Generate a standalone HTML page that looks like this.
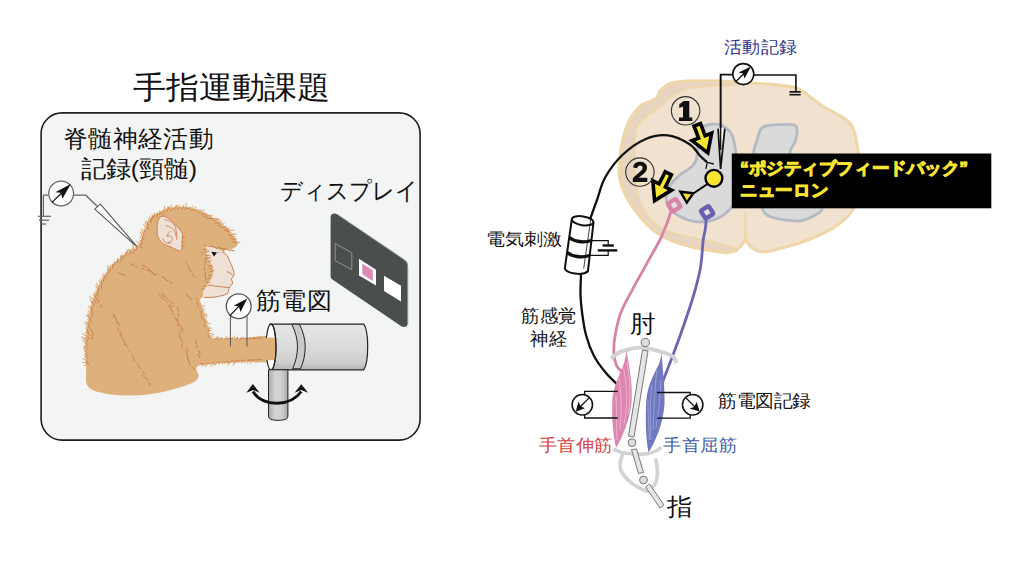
<!DOCTYPE html>
<html lang="ja"><head><meta charset="utf-8"><title>手指運動課題</title>
<style>
html,body{margin:0;padding:0;background:#fff;}
body{width:1024px;height:572px;position:relative;overflow:hidden;font-family:"Liberation Sans",sans-serif;}
svg{position:absolute;left:0;top:0;}
.t{position:absolute;line-height:1;white-space:nowrap;transform-origin:0 0;}
</style></head><body>
<svg width="1024" height="572" viewBox="0 0 1024 572">
<defs>
<linearGradient id="cyl" x1="0" y1="0" x2="0" y2="1">
<stop offset="0" stop-color="#e4e5e7"/><stop offset="0.55" stop-color="#dadada"/><stop offset="0.85" stop-color="#cdcdcd"/><stop offset="1" stop-color="#b5b5b5"/>
</linearGradient>
<linearGradient id="post" x1="0" y1="0" x2="1" y2="0">
<stop offset="0" stop-color="#a9a9a9"/><stop offset="0.35" stop-color="#d4d4d4"/><stop offset="0.7" stop-color="#cdcdcd"/><stop offset="1" stop-color="#a5a5a5"/>
</linearGradient>
</defs>
<rect x="41.1" y="112.9" width="379" height="327.2" rx="21" fill="#f3f4f4" stroke="#1e1e1e" stroke-width="1.6"/>
<polyline points="48.2,195.2 43.4,195.2 43.4,216.3" fill="none" stroke="#6b6360" stroke-width="1.2"/>
<g stroke="#6b6360" stroke-width="1.2"><line x1="38" y1="216.3" x2="51" y2="216.3"/><line x1="39" y1="220.2" x2="49.1" y2="220.2"/><line x1="41.5" y1="224" x2="46.3" y2="224"/></g>
<polyline points="74.1,195.2 85.7,195.2 97.5,206.5" fill="none" stroke="#6b6360" stroke-width="1.2"/>
<polygon points="94.8,209.1 100.4,204.2 138,247.8" fill="#fff" stroke="#555" stroke-width="1.1" stroke-linejoin="round"/>
<circle cx="61.15" cy="193.5" r="12.4" fill="#fff" stroke="#6b6360" stroke-width="1.25"/>
<line x1="52" y1="202.4" x2="62" y2="192.5" stroke="#111" stroke-width="1.2"/>
<polygon points="70.8,184.1 55.4,192.3 60.7,192.8 62.6,198.6" fill="#111"/>
<path d="M87.9,386.3 C84.6,381.7 86.6,373.4 86.2,366.0 C85.8,358.6 84.9,350.1 85.4,341.7 C85.9,333.3 87.5,323.8 89.2,315.5 C90.9,307.2 92.4,299.6 95.7,292.0 C99.0,284.4 104.4,275.6 108.8,269.7 C113.2,263.8 117.1,260.4 122.0,256.5 C126.9,252.6 134.3,250.5 138.0,246.3 C141.7,242.2 142.0,236.2 144.0,231.6 C146.0,226.9 146.9,221.8 149.8,218.4 C152.7,215.0 158.1,212.9 161.5,211.1 C164.9,209.3 165.9,208.1 170.3,207.5 C174.7,206.9 182.5,206.5 187.9,207.3 C193.3,208.1 197.6,210.1 202.5,212.4 C207.4,214.7 212.8,218.1 217.2,221.0 C221.6,223.9 225.5,226.3 228.9,230.0 C232.3,233.7 237.2,240.1 237.7,243.3 C238.2,246.5 234.0,247.9 231.8,249.2 C229.6,250.5 226.1,247.5 224.5,251.0 C222.9,254.5 223.6,263.5 222.0,270.0 C220.4,276.5 218.5,285.3 215.0,290.0 C211.5,294.7 203.2,295.5 201.0,298.0 C198.8,300.5 200.9,302.2 201.5,305.0 C202.1,307.8 203.3,311.2 204.5,315.0 C205.7,318.8 207.1,324.1 208.5,328.0 C209.9,331.9 207.9,336.6 213.2,338.3 C218.4,340.0 229.8,338.3 240.0,338.2 C250.2,338.1 268.7,334.0 274.4,337.6 C280.1,341.2 280.1,355.9 274.4,360.0 C268.7,364.1 252.5,361.1 240.0,362.0 C227.5,362.9 206.1,363.1 199.2,365.5 C192.3,367.9 199.9,373.5 198.5,376.5 C197.1,379.5 197.4,380.8 191.0,383.5 C184.6,386.2 169.8,390.5 160.0,392.5 C150.2,394.5 141.4,395.3 132.4,395.5 C123.4,395.7 113.6,395.3 106.2,393.8 C98.8,392.3 91.2,390.9 87.9,386.3 Z" fill="#deb07b"/>
<path d="M87.7,366.0 q-2.5,-0.5 -3.7,-1.0 M87.6,363.3 q-3.1,-0.5 -4.9,-1.1 M87.5,360.6 q-2.7,-0.9 -4.3,-1.8 M87.4,357.9 q-1.9,-0.7 -2.6,-1.3 M87.3,355.2 q-1.9,-0.6 -2.6,-1.2 M87.3,352.5 q-2.0,-0.3 -2.9,-0.7 M87.2,349.8 q-2.3,-1.3 -3.3,-2.6 M87.1,347.1 q-2.1,-0.5 -3.0,-1.0 M87.0,344.4 q-2.4,-1.7 -3.7,-3.4 M86.9,341.9 q-2.6,-1.4 -4.0,-2.7 M87.3,339.3 q-3.5,-1.2 -5.8,-2.3 M87.6,336.7 q-3.1,-1.5 -5.0,-2.9 M88.0,334.1 q-2.1,-0.7 -2.9,-1.3 M88.4,331.4 q-1.9,-1.5 -2.5,-2.8 M88.8,328.8 q-1.9,-1.2 -2.6,-2.2 M89.2,326.2 q-2.7,-1.4 -4.2,-2.7 M89.5,323.6 q-2.8,-1.0 -4.3,-1.8 M89.9,321.0 q-1.9,-0.8 -2.6,-1.3 M90.3,318.3 q-2.7,-1.6 -4.2,-2.9 M90.6,315.9 q-1.9,-1.6 -2.6,-2.8 M91.4,313.3 q-2.3,-1.5 -3.4,-2.6 M92.1,310.7 q-2.3,-2.3 -3.5,-4.3 M92.8,308.1 q-1.8,-1.5 -2.4,-2.6 M93.5,305.5 q-1.8,-2.1 -2.5,-3.9 M94.3,302.8 q-2.7,-1.8 -4.2,-3.2 M95.0,300.2 q-3.2,-1.8 -5.3,-3.2 M95.7,297.6 q-1.8,-1.8 -2.5,-3.4 M96.4,295.0 q-1.7,-1.3 -2.3,-2.3 M97.0,292.8 q-1.1,-1.6 -1.2,-2.6 M98.4,290.3 q-1.8,-2.7 -2.6,-4.8 M99.9,287.8 q-2.3,-2.6 -3.5,-4.7 M101.4,285.3 q-1.7,-2.6 -2.4,-4.6 M102.8,282.8 q-1.8,-2.3 -2.5,-4.1 M104.3,280.4 q-1.3,-3.1 -1.5,-5.5 M105.7,277.9 q-1.4,-2.3 -1.9,-4.0 M107.2,275.4 q-1.1,-1.6 -1.2,-2.7 M108.6,272.9 q-1.1,-2.7 -1.2,-4.9 M109.9,270.8 q-1.5,-3.0 -2.2,-5.2 M111.7,268.9 q-0.8,-2.4 -0.7,-4.0 M113.6,267.0 q-0.8,-1.8 -0.8,-2.7 M115.5,265.1 q-1.2,-1.9 -1.6,-2.9 M117.4,263.2 q-0.6,-1.9 -0.3,-2.9 M119.3,261.3 q-1.1,-1.9 -1.3,-2.9 M121.2,259.4 q-0.5,-2.5 -0.2,-4.1 M122.8,257.8 q-0.5,-2.0 -0.3,-3.0 M125.1,256.3 q0.1,-2.8 0.8,-4.6 M127.4,254.9 q0.1,-3.3 0.9,-5.6 M129.7,253.4 q-0.5,-2.3 -0.4,-3.7 M131.9,251.9 q0.0,-2.5 0.7,-3.9 M134.2,250.5 q-1.1,-3.5 -1.6,-5.9 M136.5,249.0 q-0.7,-2.1 -0.7,-3.3 M139.4,246.9 q-1.7,-1.6 -2.2,-2.7 M140.4,244.4 q-2.3,-1.9 -3.5,-3.3 M141.4,242.0 q-1.5,-1.2 -1.8,-2.0 M142.4,239.5 q-1.8,-1.8 -2.4,-3.2 M143.4,237.1 q-2.2,-2.8 -3.3,-5.2 M144.4,234.6 q-1.9,-2.1 -2.6,-3.7 M145.4,232.2 q-2.6,-1.8 -4.1,-3.1 M146.5,229.6 q-1.9,-2.9 -2.8,-5.3 M147.7,226.9 q-1.9,-2.8 -2.7,-5.2 M148.9,224.3 q-1.9,-1.8 -2.7,-3.1 M150.0,221.6 q-1.4,-1.5 -1.7,-2.6 M150.6,219.7 q-0.8,-1.9 -0.9,-2.8 M152.9,218.2 q-0.8,-2.2 -0.9,-3.3 M155.3,216.8 q-0.9,-2.4 -1.2,-3.7 M157.6,215.3 q-0.7,-1.8 -0.7,-2.6 M160.0,213.8 q-0.5,-2.0 -0.4,-3.0 M162.1,212.5 q0.2,-1.9 0.9,-2.6 M165.0,211.3 q-0.5,-3.0 -0.5,-4.9 M167.9,210.1 q-0.2,-2.4 0.1,-3.6 M170.3,209.0 q0.5,-2.5 1.1,-3.9 M173.3,209.0 q2.0,-2.6 4.1,-4.0 M176.2,208.9 q1.0,-2.5 2.0,-3.9 M179.1,208.9 q0.4,-2.1 0.8,-2.9 M182.1,208.9 q0.7,-2.4 1.4,-3.7 M185.0,208.8 q0.8,-3.3 1.6,-5.4 M187.4,208.7 q1.4,-1.2 2.5,-1.2 M190.3,209.7 q1.6,-2.4 2.7,-3.7 M193.2,210.8 q1.4,-2.5 2.5,-3.9 M196.2,211.8 q2.3,-1.5 4.2,-2.0 M199.1,212.8 q2.6,-2.2 4.8,-3.3 M201.7,213.7 q1.8,-1.6 3.0,-2.1 M204.2,215.1 q1.8,-1.1 3.1,-1.2 M206.6,216.6 q2.5,-1.3 4.3,-1.7 M209.1,218.0 q1.8,-1.8 3.0,-2.5 M211.5,219.4 q3.0,-1.2 5.5,-1.4 M214.0,220.9 q3.0,-1.5 5.4,-2.0 M216.3,222.2 q3.1,-1.2 5.5,-1.5 M218.6,224.0 q2.0,-1.2 3.2,-1.4 M221.0,225.8 q1.9,-1.7 3.1,-2.5 M223.3,227.6 q1.6,-1.2 2.4,-1.4 M225.6,229.4 q2.1,-1.0 3.5,-1.0 M227.6,230.8 q3.6,-0.7 6.1,-0.7 M229.1,233.0 q3.5,0.3 5.9,1.3 M230.6,235.3 q3.5,-0.8 6.1,-1.0 M232.0,237.5 q2.2,-0.7 3.4,-0.8 M233.5,239.7 q2.1,-0.8 3.3,-0.9 M235.0,241.9 q2.9,0.1 4.9,0.8 M200.1,305.4 q2.8,0.3 4.4,0.9 M200.8,307.9 q2.4,0.6 3.6,1.5 M201.6,310.4 q1.7,0.2 2.2,0.7 M202.3,312.9 q2.7,0.7 4.3,1.7 M203.1,315.4 q2.6,0.2 4.1,0.8 M203.9,318.0 q1.8,0.3 2.4,1.0 M204.7,320.6 q2.0,0.4 2.8,1.1 M205.5,323.2 q3.0,0.2 4.8,0.7 M206.3,325.8 q2.0,0.6 2.9,1.5 M207.2,328.7 q2.6,-0.6 4.1,-0.6 M208.3,331.0 q1.7,-0.5 2.4,-0.4 M209.5,333.4 q2.8,0.3 4.5,1.1 M210.7,335.8 q1.8,0.0 2.4,0.6 M215.0,339.7 q1.3,-2.4 2.6,-3.6 M218.1,339.7 q0.7,-1.8 1.5,-2.4 M221.3,339.7 q0.1,-1.7 0.3,-2.2 M224.4,339.7 q1.3,-2.4 2.6,-3.6 M227.5,339.6 q1.2,-1.7 2.5,-2.2 M230.6,339.6 q1.1,-1.7 2.2,-2.1 M233.8,339.6 q0.5,-2.5 1.1,-3.9 M236.9,339.6 q0.4,-1.8 0.8,-2.4 M240.0,339.6 q0.7,-1.7 1.3,-2.1 M242.9,339.6 q0.5,-1.8 1.1,-2.4 M245.8,339.5 q0.8,-1.4 1.6,-1.5 M248.8,339.5 q0.6,-1.9 1.2,-2.5 M251.7,339.4 q1.2,-1.8 2.5,-2.3 M254.6,339.4 q1.1,-1.6 2.2,-2.0 M257.5,339.3 q0.8,-2.0 1.6,-2.8 M260.4,339.3 q0.2,-2.2 0.3,-3.2 M263.3,339.2 q0.3,-2.1 0.7,-3.0 M266.2,339.2 q0.6,-1.3 1.3,-1.4 M269.1,339.1 q0.5,-1.7 1.1,-2.1 M271.9,358.5 q-0.9,2.3 -1.8,3.3 M269.0,358.7 q-0.6,1.8 -1.2,2.5 M266.1,358.9 q-1.0,1.9 -2.1,2.6 M263.2,359.0 q-0.5,1.6 -1.0,1.9 M260.3,359.2 q-0.3,1.8 -0.7,2.5 M257.4,359.4 q-0.8,2.4 -1.7,3.5 M254.5,359.6 q-1.0,1.9 -2.0,2.7 M251.5,359.8 q-0.8,2.6 -1.7,3.9 M248.6,360.0 q-0.7,2.2 -1.5,3.1 M245.7,360.1 q-0.9,1.9 -1.8,2.7 M242.8,360.3 q-0.7,2.0 -1.4,2.7 M239.9,360.5 q-1.0,1.7 -2.2,2.3 M237.0,360.8 q-1.2,2.0 -2.4,2.8 M234.2,361.0 q-0.4,2.7 -1.0,4.2 M231.3,361.3 q-1.1,1.8 -2.3,2.4 M228.4,361.5 q-0.2,2.6 -0.5,4.0 M225.6,361.8 q-0.4,1.6 -0.8,2.1 M222.7,362.0 q-0.2,1.6 -0.4,2.1 M219.9,362.3 q-0.5,1.5 -1.1,1.8 M217.0,362.5 q-1.3,2.1 -2.6,2.9 M214.2,362.8 q-0.6,1.6 -1.3,1.9 M211.3,363.0 q-0.2,2.4 -0.5,3.6 M208.4,363.3 q-1.4,2.1 -3.0,2.9 M205.6,363.5 q-0.8,1.5 -1.7,1.8 M202.7,363.8 q-0.5,1.9 -1.2,2.7" fill="none" stroke="#deb07b" stroke-width="1.1" stroke-linecap="round"/>
<path d="M89.3,365.9 l-3.7,-4.0 M88.2,362.5 l-2.0,-2.2 M87.8,359.0 l-2.7,-2.9 M87.7,355.5 l-2.1,-2.2 M86.8,352.1 l-3.1,-3.4 M87.7,348.6 l-2.8,-3.0 M87.3,345.1 l-1.7,-1.9 M87.7,342.0 l-2.3,-3.7 M89.3,338.9 l-1.4,-2.2 M89.7,335.6 l-2.6,-4.1 M88.5,332.1 l-1.5,-2.4 M90.2,329.0 l-1.4,-2.2 M89.1,325.5 l-1.8,-2.8 M91.5,322.5 l-2.0,-3.1 M90.4,319.0 l-2.7,-4.1 M92.4,316.4 l-1.3,-2.6 M92.8,312.9 l-1.8,-3.8 M92.2,309.1 l-1.2,-2.5 M94.0,306.0 l-1.9,-4.1 M96.1,303.0 l-1.2,-2.4 M96.7,299.5 l-1.9,-3.9 M97.8,296.2 l-1.2,-2.5 M98.4,293.6 l-0.5,-2.6 M98.9,290.1 l-0.7,-3.8 M101.8,288.1 l-0.8,-4.1 M101.8,284.3 l-0.6,-3.2 M103.6,281.7 l-0.7,-4.0 M105.1,278.8 l-0.5,-2.8 M106.8,276.0 l-0.5,-2.6 M108.7,273.4 l-0.6,-3.4 M110.0,270.9 l0.3,-4.7 M112.5,268.1 l0.3,-4.0 M114.8,265.2 l0.3,-3.5 M117.5,262.5 l0.2,-3.2 M121.0,260.8 l0.3,-4.7 M123.2,258.3 l0.9,-2.9 M125.9,255.5 l1.5,-5.0 M129.5,254.2 l1.4,-4.7 M133.3,253.0 l1.1,-3.8 M136.0,250.3 l1.0,-3.5 M141.2,247.6 l-1.5,-4.3 M142.4,243.8 l-1.1,-3.3 M143.4,239.9 l-1.5,-4.3 M144.2,236.0 l-1.2,-3.5 M145.2,232.1 l-0.8,-2.5 M148.1,229.4 l-0.8,-2.6 M148.2,225.6 l-1.0,-3.1 M151.2,222.9 l-0.8,-2.6 M151.2,220.7 l1.5,-4.8 M153.6,217.9 l1.0,-3.2 M156.8,216.6 l1.0,-3.2 M159.7,214.7 l0.9,-2.8 M162.8,214.3 l1.5,-2.9 M166.8,211.5 l2.4,-4.8 M170.3,210.9 l2.4,-2.1 M173.8,209.4 l2.5,-2.3 M177.4,209.4 l1.9,-1.6 M180.9,209.6 l2.9,-2.6 M184.4,209.6 l2.3,-2.0 M187.4,208.9 l2.3,-0.9 M190.9,210.5 l2.6,-1.0 M194.9,210.8 l2.4,-1.0 M198.3,212.6 l3.1,-1.3 M201.3,214.4 l4.2,-0.8 M204.1,216.4 l4.6,-0.9 M206.8,218.6 l4.5,-0.8 M210.4,219.1 l3.6,-0.7 M213.6,220.5 l5.3,-1.0 M215.6,223.1 l4.6,-0.3 M218.2,225.7 l2.6,-0.2 M221.5,227.5 l5.1,-0.3 M224.1,230.2 l4.7,-0.3 M227.0,231.3 l2.8,0.8 M228.5,235.0 l3.8,1.1 M230.7,238.3 l4.7,1.3 M232.8,241.8 l4.1,1.1 M130.2,263.7 l3.5,1.3 M135.2,266.2 l2.4,0.8 M141.3,268.0 l3.0,1.6 M146.4,270.1 l3.2,0.7 M150.6,271.7 l2.8,1.7 M153.4,274.6 l3.8,0.1 M162.0,276.9 l3.5,1.6 M165.1,279.1 l2.8,1.7 M169.4,280.9 l2.6,2.9 M162.0,292.7 l2.0,1.6 M162.6,295.4 l3.0,1.7 M167.0,298.2 l2.3,2.9 M170.3,301.8 l2.7,2.0 M177.1,307.1 l1.5,3.9 M178.0,313.7 l0.6,2.2 M177.4,318.7 l0.8,3.1 M177.9,323.3 l0.2,2.7 M180.6,328.6 l1.7,4.0 M179.5,333.1 l0.2,4.1 M179.5,336.5 l1.9,2.6 M181.2,339.8 l1.4,2.9 M182.0,343.9 l0.4,2.9 M186.1,347.3 l2.1,3.4 M185.8,350.8 l1.8,3.8 M187.1,354.8 l1.1,4.3 M187.6,359.3 l1.5,2.3 M189.2,362.3 l0.9,2.7 M192.3,367.3 l2.3,2.4 M113.2,313.5 l0.7,4.1 M114.8,315.7 l1.4,4.0 M116.2,320.1 l1.4,3.5 M118.0,322.8 l1.6,2.4 M117.4,327.7 l1.3,3.0 M119.8,331.0 l2.5,3.6 M120.1,334.3 l1.7,2.9 M122.8,337.8 l0.6,2.6 M124.4,341.2 l0.7,4.1 M126.1,345.0 l1.7,2.0 M128.7,350.2 l1.9,1.9 M132.1,354.8 l1.9,3.3 M133.1,358.4 l1.6,2.6 M136.4,362.9 l3.1,3.0 M138.3,366.3 l2.8,3.0 M143.0,371.1 l1.5,2.7 M142.1,374.8 l2.8,3.0 M145.8,377.7 l2.4,3.4 M149.1,382.9 l1.0,2.9 M142.3,265.5 l4.0,1.7 M148.1,268.3 l2.6,2.1 M149.9,270.1 l2.7,2.5 M152.9,273.1 l1.7,1.6 M158.1,293.6 l2.8,2.3 M160.9,296.4 l2.2,2.9 M164.7,299.6 l2.3,2.5 M169.4,304.9 l3.1,1.7 M169.2,306.0 l1.8,3.9 M171.4,309.8 l1.7,2.1 M172.0,313.3 l2.1,2.0 M174.5,317.1 l1.9,2.5 M175.5,319.9 l1.9,1.9 M178.9,324.0 l2.3,2.9 M181.4,327.1 l2.1,2.6 M186.2,294.4 l2.9,2.8 M190.0,297.5 l1.1,2.6 M196.5,298.3 l1.1,2.4 M196.6,302.0 l1.1,2.3 M197.7,304.8 l1.3,2.1 M201.2,310.7 l0.3,4.2 M201.1,315.7 l1.6,3.9 M204.0,319.8 l2.1,3.2 M204.0,324.3 l1.4,2.7 M208.0,328.8 l1.2,2.5 M207.9,334.1 l2.2,3.7 M195.6,340.0 l0.9,3.9 M197.1,344.8 l-0.2,3.0 M198.7,350.5 l1.6,3.9 M198.1,354.3 l1.4,3.6 M118.7,272.6 l3.8,1.8 M122.4,274.2 l2.7,1.3 M98.4,299.7 l0.2,2.8 M101.2,305.2 l0.1,2.2 M91.2,330.0 l2.0,3.8 M92.7,334.6 l-0.3,4.3 M185.3,261.5 l1.9,2.5 M188.0,266.4 l1.9,3.5 M189.5,269.8 l2.4,2.6 M192.1,274.4 l3.1,2.4 M201.6,252.1 l1.4,2.3 M205.7,257.7 l0.0,2.9 M204.8,262.0 l0.4,2.8 M204.7,266.9 l-0.3,3.8 M205.7,272.5 l-0.7,3.5 M205.5,276.7 l0.5,3.6 M215.0,339.0 l3.6,-0.8 M220.0,339.0 l3.2,-0.8 M225.0,339.0 l4.0,-0.8 M230.0,338.9 l2.9,-0.8 M235.0,338.9 l3.0,-0.8 M240.0,338.9 l3.0,-0.8 M244.6,338.8 l2.8,-0.8 M249.1,338.8 l4.3,-0.8 M253.7,338.7 l3.7,-0.8 M258.3,338.6 l3.2,-0.8 M262.9,338.5 l3.3,-0.8 M267.4,338.5 l4.5,-0.8 M272.0,359.2 l-3.5,-0.6 M267.4,359.5 l-3.0,-0.6 M262.9,359.8 l-4.1,-0.6 M258.3,360.1 l-3.8,-0.6 M253.7,360.3 l-4.5,-0.6 M249.1,360.6 l-2.7,-0.6 M244.6,360.9 l-3.4,-0.6 M240.0,361.2 l-4.1,-0.6 M235.0,361.6 l-4.2,-0.6 M230.0,362.1 l-4.3,-0.6 M225.0,362.5 l-2.6,-0.6 M220.0,362.9 l-3.1,-0.6 M215.0,363.4 l-2.7,-0.6 M210.0,363.8 l-2.9,-0.6 M205.0,364.3 l-4.4,-0.6" fill="none" stroke="#c4733c" stroke-width="0.75" stroke-linecap="round"/>
<path d="M206.4,245.2 C207.6,244.2 210.5,246.1 213.5,247.3 C216.5,248.5 221.9,250.2 224.5,252.3 C227.1,254.4 227.5,257.1 229.0,260.0 C230.5,262.9 232.5,267.2 233.3,269.7 C234.1,272.2 234.3,273.4 234.0,275.0 C233.7,276.6 231.8,277.7 231.5,279.0 C231.2,280.3 232.9,281.4 232.5,283.0 C232.1,284.6 229.9,286.6 229.0,288.4 C228.1,290.2 229.1,292.6 226.8,294.0 C224.5,295.4 218.6,296.4 215.0,297.0 C211.4,297.6 207.2,298.3 205.2,297.5 C203.2,296.7 202.6,294.2 203.0,292.0 C203.4,289.8 206.0,286.5 207.5,284.0 C209.0,281.5 211.1,279.5 212.0,277.0 C212.9,274.5 213.4,271.7 213.0,269.0 C212.6,266.3 210.6,263.7 209.5,261.0 C208.4,258.3 207.0,255.6 206.5,253.0 C206.0,250.4 205.2,246.1 206.4,245.2 Z" fill="#eee0d5"/>
<path d="M222.0,251.6 C222.8,252.2 225.6,253.6 227.0,255.5 C228.4,257.4 229.4,260.6 230.5,263.0 C231.6,265.4 232.7,267.7 233.3,269.7 C233.9,271.7 234.3,273.4 234.0,275.0 C233.7,276.6 231.8,277.7 231.5,279.0 C231.2,280.3 232.9,281.4 232.5,283.0 C232.1,284.6 229.9,286.6 229.0,288.4 C228.1,290.2 229.1,292.6 226.8,294.0 C224.5,295.4 218.8,296.4 215.0,297.0 C211.2,297.6 205.8,297.4 204.0,297.5" fill="none" stroke="#c4733c" stroke-width="0.9"/>
<path d="M207.5,285 C214,286 222,287 229.5,287.6 M226.8,271.4 C229,272.5 231,273.5 232.5,275" fill="none" stroke="#c4733c" stroke-width="0.85"/>
<path d="M211.3,251.8 L217,252.6 L214,256.5 Z" fill="#111"/>
<path d="M217,252.6 L220.5,252.4" stroke="#aaa" stroke-width="0.6"/>
<path d="M203.4,249.0 l3.9,0.8 M204.6,252.0 l4.6,-0.8 M205.8,255.0 l4.3,1.0 M206.7,258.0 l4.0,-0.1 M208.2,262.0 l3.1,-1.4 M209.0,266.0 l3.1,-0.2 M209.8,269.0 l2.6,-1.5 M210.0,272.0 l3.9,-1.5 M208.7,275.5 l3.0,0.3 M207.9,279.0 l2.4,-1.1 M206.1,282.5 l3.9,-0.1 M203.4,286.0 l2.9,0.1 M201.1,289.5 l3.1,-0.9 M204.5,245.1 l3.6,1.0 M208.5,246.1 l3.7,0.6 M211.5,245.9 l2.7,1.4 M214.2,247.1 l3.4,1.7 M217.5,247.1 l2.9,1.0 M221.0,248.4 l3.0,1.1 M223.8,248.6 l3.2,0.7 M227.2,249.6 l3.1,1.0 M230.8,250.3 l3.4,0.5" fill="none" stroke="#c4733c" stroke-width="0.8" stroke-linecap="round"/>
<path d="M160.2,217.1 C161.3,216.2 162.6,215.9 164.2,216.3 C165.8,216.7 167.9,217.9 170.0,219.5 C172.1,221.1 174.4,223.7 176.5,226.0 C178.6,228.3 181.4,230.9 182.3,233.6 C183.2,236.3 182.3,239.1 182.0,242.0 C181.7,244.9 182.5,250.1 180.7,250.9 C178.9,251.7 173.9,248.2 171.0,247.0 C168.1,245.8 165.5,245.4 163.4,243.9 C161.3,242.4 159.6,240.0 158.5,238.0 C157.4,236.0 157.2,234.7 157.1,232.0 C157.0,229.3 157.3,224.5 157.8,222.0 C158.3,219.5 159.1,218.0 160.2,217.1 Z" fill="#eee0d5" stroke="#c4733c" stroke-width="0.85"/>
<path d="M164.2,219.4 C170,220.5 175,223 176,230 C177,234 177,237 176.8,240 M165.7,225.7 C169,226 172.5,227.5 174.5,231 C175.5,233 176,235 176,236.5 M171.3,231.3 C169,232 167.5,233.5 167,236.5 C168.5,236 170,235.5 171,236.5 C173,238 172.5,240.5 171,241.8 C170,242.3 169,242.3 168,242.2 M162.6,238.3 C163.5,241 165,243 168,243.3 C169,243.3 170,243.2 170.5,243 M181.5,237 l3.5,0.5 M182,241 l2.5,2 M181.5,245 l3,2.5" fill="none" stroke="#c4733c" stroke-width="0.75"/>
<polygon points="334.6,217.6 403.6,264.2 403.6,323 334.6,276.2" fill="#4a4e4f" stroke="#4a4e4f" stroke-width="8" stroke-linejoin="round"/>
<path d="M337,214.2 L404,259.5 C406.5,261.5 407.8,264.5 407.8,268.5 L407.8,325" fill="none" stroke="#8a8c8e" stroke-width="0.8"/>
<polygon points="335.2,243.5 351.8,252.8 351.8,269.7 335.2,260.6" fill="none" stroke="#a89a88" stroke-width="0.9"/>
<polygon points="359,258.7 376,269.7 376,285.6 359,275.4" fill="#fff"/>
<polygon points="362.3,263.5 372.8,270.3 372.8,281 362.3,274.3" fill="#d98cb8"/>
<polygon points="384,275.8 401,285.8 401,301.5 384,291" fill="#fff"/>
<path d="M270,324.2 L363.8,324.2 C366.5,328 367.7,337 367.7,346.7 C367.7,356 366.5,365.5 363.8,369.8 L270.6,369.8 Z" fill="url(#cyl)" stroke="#222" stroke-width="1.2"/>
<path d="M291.7,324.2 C295.5,332 297.5,339 297.5,346.7 C297.5,355 295.5,362 292.7,368.8 L300.4,368.8 C303.5,362 305.2,355 305.2,346.7 C305.2,339 303,331 299.4,324.2 Z" fill="#c9c9ca" stroke="#222" stroke-width="1"/>
<ellipse cx="271" cy="347" rx="5" ry="22.8" fill="#fff" stroke="#222" stroke-width="1.2"/>
<path d="M262,337.7 L275.5,337.6 L275.5,360 L262,360.4 Z" fill="#deb07b"/>
<path d="M271,324.2 A5,22.8 0 0 1 271,369.8" fill="none" stroke="#222" stroke-width="1.2"/>
<path d="M268.5,369.8 L268.5,416 C268.5,419 272,420.3 278.2,420.3 C284.5,420.3 287.9,419 287.9,416 L287.9,369.8 Z" fill="url(#post)" stroke="#222" stroke-width="1"/>
<path d="M253,391.5 C258,400 268,403.5 277.3,403.3 C287,403 296,399 301.3,391.5" fill="none" stroke="#111" stroke-width="2.9"/>
<polygon points="252.8,383.9 246.3,392.8 253.2,390 259.6,392.8" fill="#111"/>
<polygon points="301.3,384.3 294.6,392.8 301.3,390 308.1,392.8" fill="#111"/>
<line x1="230.4" y1="316" x2="230.4" y2="346.5" stroke="#555" stroke-width="1"/>
<line x1="247" y1="316" x2="247" y2="346.5" stroke="#555" stroke-width="1"/>
<circle cx="238.7" cy="306.2" r="12.4" fill="#fff" stroke="#555" stroke-width="1.3"/>
<line x1="229.8" y1="315.9" x2="240" y2="305" stroke="#111" stroke-width="1.1"/>
<polygon points="247.3,298.4 233.5,305.8 238.8,306 240.5,312" fill="#111"/>
<path d="M745.4,238 C748,246 755,251.8 765,252  C770.8,250.5 788.3,247.0 799.6,243.0 C810.9,239.0 823.9,233.7 832.8,228.2 C841.6,222.7 848.6,216.4 852.7,210.0 C856.8,203.6 856.5,197.2 857.5,190.0 C858.5,182.8 859.1,174.1 859.0,166.5 C858.9,158.9 858.5,151.8 857.0,144.5 C855.5,137.2 855.2,129.2 849.7,123.0 C844.2,116.8 830.8,111.5 824.0,107.0 C817.2,102.5 813.9,99.2 809.0,96.0 C804.1,92.8 802.8,89.6 794.6,87.5 C786.4,85.4 772.1,84.6 760.0,83.5 C747.9,82.4 734.2,81.5 722.0,81.1 C709.8,80.7 695.7,80.6 686.9,81.1 C678.1,81.6 673.8,82.3 669.3,84.0 C664.8,85.7 662.1,88.8 660.0,91.1 C657.9,93.4 658.6,96.1 656.4,98.1 C654.2,100.0 649.7,101.4 647.0,102.8 C644.3,104.2 643.1,103.0 640.0,106.3 C636.9,109.6 631.8,114.8 628.5,122.4 C625.2,130.0 621.9,142.0 620.5,151.8 C619.1,161.6 617.8,171.1 620.3,181.0 C622.8,190.9 628.9,202.0 635.5,211.0 C642.1,220.0 650.9,229.1 660.0,235.0 C669.1,240.9 679.0,243.5 690.0,246.5 C701.0,249.5 719.8,251.8 725.7,252.8 C735,252.5 742,247 745.4,238 Z" fill="#f1e2cf"/>
<path d="M738.0,251.5 C736.0,251.7 733.7,253.6 725.7,252.8 C717.7,252.0 701.0,249.5 690.0,246.5 C679.0,243.5 669.1,240.9 660.0,235.0 C650.9,229.1 642.1,220.0 635.5,211.0 C628.9,202.0 622.8,190.9 620.3,181.0 C617.8,171.1 619.1,161.6 620.5,151.8 C621.9,142.0 625.2,130.0 628.5,122.4 C631.8,114.8 636.9,109.6 640.0,106.3 C643.1,103.0 644.3,104.2 647.0,102.8 C649.7,101.4 654.2,100.0 656.4,98.1 C658.6,96.1 657.9,93.4 660.0,91.1 C662.1,88.8 664.8,85.7 669.3,84.0 C673.8,82.3 678.1,81.6 686.9,81.1 C695.7,80.6 711.8,80.8 722.0,81.1 C732.2,81.3 743.7,82.3 748.0,82.6 L748.0,83.6 C745.0,83.9 735.7,85.1 730.0,85.5 C724.3,85.9 721.0,85.3 714.0,85.8 C707.0,86.3 694.7,86.9 687.7,88.6 C680.7,90.3 676.4,93.2 672.0,96.0 C667.6,98.8 665.9,101.9 661.5,105.4 C657.1,108.9 649.9,113.0 645.7,117.0 C641.5,121.0 638.1,123.2 636.3,129.6 C634.5,136.0 634.8,145.8 634.8,155.6 C634.8,165.4 634.6,178.8 636.5,188.5 C638.4,198.2 640.9,206.4 646.0,213.5 C651.1,220.6 657.0,226.3 667.0,230.8 C677.0,235.3 695.6,237.9 705.8,240.4 C716.0,242.9 722.6,244.4 728.0,246.0 C733.4,247.6 736.3,249.3 738.0,250.0 Z" fill="#e7d4c1"/>
<path d="M748.0,83.6 C745.0,83.9 735.7,85.1 730.0,85.5 C724.3,85.9 721.0,85.3 714.0,85.8 C707.0,86.3 694.7,86.9 687.7,88.6 C680.7,90.3 676.4,93.2 672.0,96.0 C667.6,98.8 665.9,101.9 661.5,105.4 C657.1,108.9 649.9,113.0 645.7,117.0 C641.5,121.0 638.1,123.2 636.3,129.6 C634.5,136.0 634.8,145.8 634.8,155.6 C634.8,165.4 634.6,178.8 636.5,188.5 C638.4,198.2 640.9,206.4 646.0,213.5 C651.1,220.6 657.0,226.3 667.0,230.8 C677.0,235.3 695.6,237.9 705.8,240.4 C716.0,242.9 722.6,244.4 728.0,246.0 C733.4,247.6 736.3,249.3 738.0,250.0" fill="none" stroke="#efd7aa" stroke-width="2"/>
<path d="M745.4,238 C748,246 755,251.8 765,252  C770.8,250.5 788.3,247.0 799.6,243.0 C810.9,239.0 823.9,233.7 832.8,228.2 C841.6,222.7 848.6,216.4 852.7,210.0 C856.8,203.6 856.5,197.2 857.5,190.0 C858.5,182.8 859.1,174.1 859.0,166.5 C858.9,158.9 858.5,151.8 857.0,144.5 C855.5,137.2 855.2,129.2 849.7,123.0 C844.2,116.8 830.8,111.5 824.0,107.0 C817.2,102.5 813.9,99.2 809.0,96.0 C804.1,92.8 802.8,89.6 794.6,87.5 C786.4,85.4 772.1,84.6 760.0,83.5 C747.9,82.4 734.2,81.5 722.0,81.1 C709.8,80.7 695.7,80.6 686.9,81.1 C678.1,81.6 673.8,82.3 669.3,84.0 C664.8,85.7 662.1,88.8 660.0,91.1 C657.9,93.4 658.6,96.1 656.4,98.1 C654.2,100.0 649.7,101.4 647.0,102.8 C644.3,104.2 643.1,103.0 640.0,106.3 C636.9,109.6 631.8,114.8 628.5,122.4 C625.2,130.0 621.9,142.0 620.5,151.8 C619.1,161.6 617.8,171.1 620.3,181.0 C622.8,190.9 628.9,202.0 635.5,211.0 C642.1,220.0 650.9,229.1 660.0,235.0 C669.1,240.9 679.0,243.5 690.0,246.5 C701.0,249.5 719.8,251.8 725.7,252.8 C735,252.5 742,247 745.4,238 Z" fill="none" stroke="#efd7aa" stroke-width="3.2"/>
<path d="M745.4,212 L745.4,238" stroke="#efd7aa" stroke-width="2.2"/>
<path d="M713.2,124.0 C716.4,123.8 719.0,123.8 722.0,125.5 C725.0,127.2 729.2,129.9 731.5,134.0 C733.8,138.1 734.6,143.2 735.5,150.0 C736.4,156.8 736.9,167.0 737.0,175.0 C737.1,183.0 737.3,192.2 736.0,198.0 C734.7,203.8 732.8,206.4 729.3,210.0 C725.8,213.6 720.9,217.5 715.2,219.4 C709.5,221.3 701.9,222.6 695.2,221.6 C688.5,220.6 679.8,216.7 675.1,213.6 C670.4,210.5 668.4,206.3 667.0,203.0 C665.6,199.7 666.0,196.9 666.5,194.0 C667.0,191.1 667.9,188.4 670.0,185.3 C672.1,182.2 675.4,178.7 679.1,175.6 C682.8,172.5 689.1,169.3 692.0,166.5 C694.9,163.7 695.6,161.8 696.5,159.0 C697.4,156.2 697.1,153.8 697.5,150.0 C697.9,146.2 698.1,139.8 699.0,136.0 C699.9,132.2 700.6,129.0 703.0,127.0 C705.4,125.0 710.0,124.2 713.2,124.0 Z" fill="#dadada" stroke="#b4b9c4" stroke-width="2.8"/>
<path d="M766.0,126.0 C771.4,125.0 787.2,124.0 792.4,124.7 C797.6,125.4 796.6,127.1 797.0,130.0 C797.4,132.9 796.2,138.0 795.0,142.0 C793.8,146.0 789.2,148.0 790.0,154.0 C790.8,160.0 796.2,171.0 800.0,178.0 C803.8,185.0 809.3,191.0 813.0,196.0 C816.7,201.0 821.6,204.8 822.0,208.0 C822.4,211.2 819.4,212.8 815.5,215.0 C811.6,217.2 806.1,220.7 798.7,221.0 C791.4,221.3 777.5,219.2 771.4,217.0 C765.3,214.8 764.6,213.3 762.0,208.0 C759.4,202.7 757.4,194.0 756.0,185.0 C754.6,176.0 753.5,161.3 753.6,154.0 C753.7,146.7 755.7,144.8 756.8,141.0 C757.9,137.2 758.5,133.5 760.0,131.0 C761.5,128.5 760.6,127.0 766.0,126.0 Z" fill="#dadada" stroke="#b4b9c4" stroke-width="2.8"/>
<rect x="731.8" y="153.5" width="259.5" height="54.8" fill="#000"/>
<polyline points="732.7,74.6 720.6,74.6 720.6,128" fill="none" stroke="#111" stroke-width="1.6"/>
<polyline points="754,75 795.9,75 795.9,91.1" fill="none" stroke="#111" stroke-width="1.6"/>
<line x1="789.5" y1="91.9" x2="800.7" y2="91.9" stroke="#111" stroke-width="1.7"/>
<line x1="789.5" y1="94.7" x2="800.7" y2="94.7" stroke="#111" stroke-width="1.6"/>
<circle cx="743.3" cy="74.1" r="10.5" fill="#fff" stroke="#111" stroke-width="1.6"/>
<line x1="735.5" y1="82" x2="744" y2="73.5" stroke="#111" stroke-width="1.3"/>
<polygon points="751,66.5 738.5,72.5 743,73.5 744.5,78.5" fill="#111"/>
<path d="M718.1,128.6 L720.6,168.9 L724.8,128.6" fill="#fff" stroke="#111" stroke-width="1.8"/>
<line x1="720.6" y1="74.6" x2="720.6" y2="150" stroke="#111" stroke-width="1.5"/>
<line x1="707.5" y1="184" x2="694" y2="193" stroke="#000" stroke-width="2"/>
<polygon points="680.4,191.7 693.3,193.2 686.8,202.6" fill="#f7e531" stroke="#000" stroke-width="2.4" stroke-linejoin="miter"/>
<circle cx="713.9" cy="178.3" r="8.4" fill="#f7e531" stroke="#000" stroke-width="2.4"/>
<path d="M672.0,208.0 C671.2,210.3 668.8,218.3 667.5,222.0 C666.2,225.7 665.5,227.0 664.2,230.0 C662.9,233.0 663.0,234.1 659.9,240.0 C656.8,245.9 650.5,256.8 645.9,265.2 C641.2,273.6 636.2,282.4 632.0,290.3 C627.8,298.2 623.6,305.2 620.8,312.7 C618.0,320.1 616.4,328.5 615.2,335.0 C614.0,341.5 613.6,346.7 613.8,351.8 C614.0,356.9 615.2,362.5 616.6,365.8 C618.0,369.1 621.1,370.5 622.0,371.4" fill="none" stroke="#d884a8" stroke-width="2.8"/>
<path d="M706.5,213.0 C706.4,215.0 706.1,221.8 705.8,225.0 C705.5,228.2 705.2,229.5 704.8,232.0 C704.4,234.5 703.9,234.0 703.2,240.0 C702.5,246.0 702.0,258.7 700.4,268.0 C698.8,277.3 696.4,285.8 693.4,296.0 C690.4,306.2 686.0,318.8 682.3,329.5 C678.6,340.2 674.5,350.9 671.0,360.2 C667.5,369.5 662.9,381.2 661.3,385.4" fill="none" stroke="#6a66b4" stroke-width="2.8"/>
<rect x="669.5" y="200.5" width="9.4" height="9.4" rx="1.5" transform="rotate(57 674.2 205.2)" fill="#e4e0e2" stroke="#d884a8" stroke-width="4.4"/>
<rect x="702.4" y="207.6" width="9.4" height="9.4" rx="1.5" transform="rotate(58 707.1 212.3)" fill="#e4e4e8" stroke="#6b5fae" stroke-width="4.4"/>
<path d="M590.1,219.0 C591.2,215.8 594.5,206.9 597.0,200.0 C599.5,193.1 600.8,185.2 605.0,177.7 C609.2,170.2 615.7,161.4 622.4,155.0 C629.1,148.6 637.6,142.5 645.2,139.2 C652.8,135.9 660.5,134.5 668.0,135.4 C675.5,136.3 684.7,141.1 690.0,144.4 C695.3,147.8 696.9,152.5 699.8,155.5 C702.6,158.5 705.9,161.1 707.1,162.2" fill="none" stroke="#111" stroke-width="2.3"/>
<path d="M707.1,162.4 L713.8,164 M707.1,162.8 L705.9,168.9" stroke="#111" stroke-width="1.3" fill="none"/>
<polygon points="694.0,126.0 698.6,138.1 692.0,140.6 707.8,152.8 711.7,133.2 705.1,135.7 700.6,123.6" fill="#f7e531" stroke="#000" stroke-width="3.6" stroke-linejoin="miter"/>
<polygon points="665.2,171.7 659.1,183.8 652.8,180.7 654.6,200.6 671.6,190.1 665.4,187.0 671.4,174.9" fill="#f7e531" stroke="#000" stroke-width="3.6" stroke-linejoin="miter"/>
<circle cx="685.6" cy="110.8" r="14.2" fill="none" stroke="#333" stroke-width="1.1"/>
<circle cx="639.9" cy="172.1" r="14.2" fill="none" stroke="#333" stroke-width="1.1"/>
<path d="M683.8,101 L689.3,101 L689.3,117.5 L692.3,117.5 L692.3,121 L679,121 L679,117.5 L683,117.5 L683,106.5 L679.3,108 L679.3,104.2 Z" fill="#111"/>
<path d="M633.2,167.5 C633.5,163.5 636.5,161.8 640.3,161.8 C644.5,161.8 647,164.3 647,167.8 C647,171 645,173 641.5,175.5 L638.7,177.8 L647.3,177.8 L647.3,182.1 L632.8,182.1 L632.8,178.5 C635,176 638,173.5 640.5,171.3 C642,170 642.6,169 642.6,167.8 C642.6,166.3 641.6,165.5 640.1,165.5 C638.5,165.5 637.5,166.5 637.4,168.2 Z" fill="#111"/>
<path d="M571.8,219.5 L564.8,268.6 C567,273.5 582,276 587.9,271.4 L593.5,222.4" fill="#fff" stroke="#111" stroke-width="2"/>
<ellipse cx="582.6" cy="220.8" rx="10.9" ry="4.4" transform="rotate(9 582.6 220.8)" fill="#fff" stroke="#111" stroke-width="2"/>
<path d="M569.3,237.5 C574,241.5 584,243.3 591.3,240.5" fill="none" stroke="#111" stroke-width="3.4"/>
<path d="M567.2,252.5 C572,256.5 582,258.3 589.3,255.5" fill="none" stroke="#111" stroke-width="3.4"/>
<line x1="590.7" y1="219.6" x2="583.7" y2="268.6" stroke="#111" stroke-width="0.8"/>
<polyline points="590,240.6 608.2,240.6 608.2,245" fill="none" stroke="#111" stroke-width="1.2"/>
<polyline points="588,255.3 608.2,255.3 608.2,250.4" fill="none" stroke="#111" stroke-width="1.2"/>
<line x1="602.6" y1="245.5" x2="613.8" y2="245.5" stroke="#111" stroke-width="2.4"/>
<line x1="597.7" y1="250.4" x2="617.3" y2="250.4" stroke="#111" stroke-width="2.4"/>
<path d="M581.0,274.0 C580.9,277.5 580.3,288.7 580.5,295.0 C580.7,301.3 581.1,305.3 582.0,312.0 C582.9,318.7 584.0,327.7 586.0,335.0 C588.0,342.3 590.7,349.7 594.0,356.0 C597.3,362.3 602.0,368.2 606.0,373.0 C610.0,377.8 615.4,382.4 618.0,385.0 C620.6,387.6 620.9,387.9 621.5,388.5" fill="none" stroke="#111" stroke-width="2.3"/>
<path d="M611.0,358.8 C612.2,357.8 615.5,354.5 618.0,353.0 C620.5,351.5 622.6,350.9 626.3,350.0 C630.0,349.1 635.7,347.7 640.0,347.6 C644.3,347.5 648.5,348.6 652.0,349.3 C655.5,350.0 658.3,351.0 661.0,351.8 C663.7,352.6 665.9,353.1 668.0,354.0 C670.1,354.9 672.4,355.9 673.9,357.4 C675.4,358.9 676.2,362.1 676.7,363.0" fill="none" stroke="#d3d3d3" stroke-width="4"/>
<path d="M613.0,448.8 C614.5,449.4 618.5,451.6 622.0,452.5 C625.5,453.4 629.7,453.8 634.0,454.0 C638.3,454.2 644.0,454.2 647.7,453.7 C651.4,453.2 653.8,452.1 656.0,451.0 C658.2,449.9 660.2,447.7 661.0,447.0" fill="none" stroke="#d3d3d3" stroke-width="3.6"/>
<path d="M622.7,453.7 C622.3,455.1 620.6,459.3 620.3,462.0 C620.0,464.7 619.5,467.0 620.8,470.0 C622.1,473.0 625.5,477.3 628.0,480.0 C630.5,482.7 633.3,484.3 636.0,486.0 C638.7,487.7 642.0,489.2 644.0,490.0 C646.0,490.8 646.2,492.0 648.0,491.0 C649.8,490.0 653.5,486.5 655.0,484.0 C656.5,481.5 657.0,478.8 657.3,475.8 C657.6,472.8 657.3,468.9 657.0,466.0 C656.7,463.1 655.7,459.8 655.4,458.5" fill="none" stroke="#d3d3d3" stroke-width="3.6"/>
<path d="M626.5,350.5 C629,365 633,385 631.5,402 C630,420 622,438 616,448 C612.5,432 611.5,412 612.5,398 C614,385 620,374 623,366 C625,360 626,355 626.5,350.5 Z" fill="#dc86b0"/>
<path d="M623.5,368 C627,385 628,402 624,425 M619,378 C621,392 622,408 620,430 M627,362 C630,380 631,398 628,415 M616,395 C616.5,410 617,425 617,440" fill="none" stroke="#f2bfd8" stroke-width="0.9" opacity="0.85"/>
<path d="M661.5,353.3 C663,370 665,390 664.5,404 C663,425 655,442 648.6,452.5 C645.5,437 645.5,418 646.2,401 C647.5,385 655,372 659,364 C660.5,360 661.2,356 661.5,353.3 Z" fill="#7079c0"/>
<path d="M657,370 C655,385 654,405 653,430 M652,385 C650,400 650,420 651,440 M661,380 C660,395 659,412 656,428 M648,400 C648,412 648.5,425 649.5,440" fill="none" stroke="#a0a8dc" stroke-width="0.9" opacity="0.85"/>
<polygon points="642.5,350 648,351 634,437 628.5,436" fill="#e6e6e6" stroke="#777" stroke-width="1"/>
<circle cx="645.3" cy="342.5" r="4.1" fill="#ddd" stroke="#777" stroke-width="1"/>
<circle cx="632" cy="442.7" r="3.9" fill="#ddd" stroke="#777" stroke-width="1"/>
<polygon points="631.5,449.5 636.5,449 643.5,472.5 638.5,473.5" fill="#e6e6e6" stroke="#777" stroke-width="1"/>
<circle cx="643.5" cy="480" r="3.9" fill="#ddd" stroke="#777" stroke-width="1"/>
<polygon points="645.5,487 649.5,484 664,505 660,508" fill="#e6e6e6" stroke="#777" stroke-width="1"/>
<polyline points="584.6,394.4 584.6,391.3 617.7,391.3" fill="none" stroke="#111" stroke-width="1.3"/>
<polyline points="584.6,414.8 584.6,418 617.7,418" fill="none" stroke="#111" stroke-width="1.3"/>
<circle cx="582.3" cy="404.7" r="10.2" fill="#fff" stroke="#111" stroke-width="1.5"/>
<line x1="589.4" y1="397.6" x2="580" y2="407" stroke="#111" stroke-width="1.3"/>
<polygon points="575.7,411.7 578.5,401.5 580.5,406 584.8,408.3" fill="#111"/>
<polyline points="657,392.5 690.2,392.5 690.2,394.8" fill="none" stroke="#111" stroke-width="1.3"/>
<polyline points="657,418.2 690.2,418.2 690.2,414.7" fill="none" stroke="#111" stroke-width="1.3"/>
<circle cx="692.7" cy="404.7" r="10.2" fill="#fff" stroke="#111" stroke-width="1.5"/>
<line x1="686" y1="398" x2="695" y2="407" stroke="#111" stroke-width="1.3"/>
<polygon points="699.7,411.5 689.5,408.5 694,407 696.7,402" fill="#111"/>
</svg>
<div class="t" style="left:133.1px;top:71.73px;font-size:32px;color:#111;transform:scale(1.0264,0.9606);">手指運動課題</div><div class="t" style="left:62.59px;top:126.59px;font-size:25px;color:#111;transform:scale(1.0042,0.9749);">脊髄神経活動</div><div class="t" style="left:81.09px;top:156.99px;font-size:25px;color:#111;transform:scale(0.9949,0.9467);">記録(頸髄)</div><div class="t" style="left:280.1px;top:180.48px;font-size:22px;color:#111;transform:scale(0.997,1.0734);">ディスプレイ</div><div class="t" style="left:256.38px;top:288.82px;font-size:25px;color:#111;transform:scale(1.0114,0.9691);">筋電図</div><div class="t" style="left:723.81px;top:38.37px;font-size:19px;color:#2f3590;transform:scale(0.9686,0.9169);">活動記録</div><div class="t" style="left:739.62px;top:159.9px;font-size:18px;color:#f7e531;transform:scale(0.9742,0.95);font-weight:700;-webkit-text-stroke:1.1px #f7e531;">“ポジティブフィードバック”</div><div class="t" style="left:739.6px;top:182.27px;font-size:18px;color:#f7e531;transform:scale(0.9843,0.9616);font-weight:700;-webkit-text-stroke:1.1px #f7e531;">ニューロン</div><div class="t" style="left:486.1px;top:230.72px;font-size:19px;color:#111;transform:scale(0.9947,0.8855);">電気刺激</div><div class="t" style="left:520.81px;top:306.94px;font-size:18px;color:#111;transform:scale(1.0379,1.0125);">筋感覚</div><div class="t" style="left:530.22px;top:330.38px;font-size:18px;color:#111;transform:scale(1.0409,1.0231);">神経</div><div class="t" style="left:630.37px;top:311.91px;font-size:24px;color:#111;transform:scale(1.0826,1.0155);">肘</div><div class="t" style="left:717.61px;top:391.78px;font-size:19px;color:#111;transform:scale(0.9769,0.9379);">筋電図記録</div><div class="t" style="left:539.4px;top:436.63px;font-size:18px;color:#d94141;transform:scale(1.0256,0.9566);">手首伸筋</div><div class="t" style="left:662.6px;top:436.21px;font-size:18px;color:#3f5aa8;transform:scale(1.0283,0.9669);">手首屈筋</div><div class="t" style="left:667.2px;top:495.26px;font-size:24px;color:#111;transform:scale(1.0444,0.984);">指</div>
</body></html>
